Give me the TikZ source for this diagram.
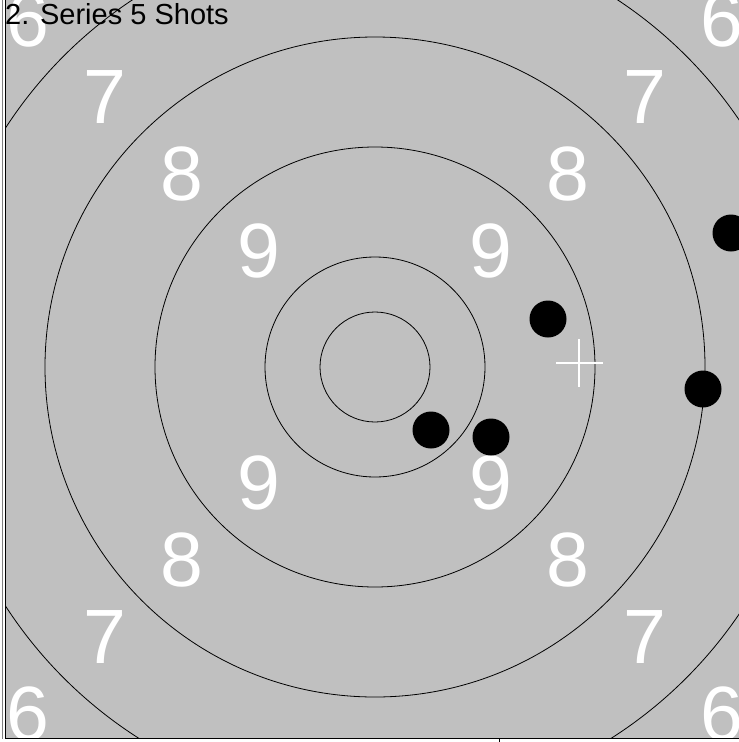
\documentclass[tikz,border=0pt]{standalone}
\usepackage{fontspec}
\setmainfont{Liberation Sans}
\usetikzlibrary{positioning}
\definecolor{targetgray}{RGB}{192,192,192}
\tikzset{
ringline/.style={draw=black, line width=0.8pt},
ringlabel/.style={text=white, inner sep=0pt, font=\fontsize{77}{77}\selectfont},
shotmark/.style={fill=black},
aimcross/.style={draw=white, line width=1.4pt},
frameline/.style={draw=black, line width=0.9pt},
titletext/.style={anchor=base west, inner sep=0pt, font=\fontsize{29}{29}\selectfont}
}

\begin{document}
\begin{tikzpicture}[x=1pt,y=-1pt]
\useasboundingbox (0,0) rectangle (739,742);
\coordinate (ctr) at (375,367);

\begin{scope}
\clip (5,0) rectangle (739,737.5);
\fill[targetgray] (5,0) rectangle (739,737.5);
% rings
\foreach \r in {55,110,220,330,440}
  \draw[ringline] (ctr) circle[radius=\r];
% ring values on the diagonals
\foreach \d/\v in {116/9,193/8,270/7,347/6}{
  \node[ringlabel] (lab\v-ul) at (375-\d,367-\d) {\v};
  \node[ringlabel] (lab\v-ur) at (375+\d,367-\d) {\v};
  \node[ringlabel] (lab\v-ll) at (375-\d,367+\d) {\v};
  \node[ringlabel] (lab\v-lr) at (375+\d,367+\d) {\v};
}
% shots
\foreach \sx/\sy in {548/319,431/430,491/437,703/389,731/233}
  \fill[shotmark] (\sx,\sy) circle[radius=18.5];
% mean point of impact
\draw[aimcross] (556,363) -- (603,363) (579,339) -- (579,387);
\end{scope}

\node[titletext] (title) at (5,24) {2. Series 5 Shots};

% frame
\draw[draw=gray, line width=0.6pt] (2.5,0) -- (2.5,738.5);
\draw[frameline] (5,0) -- (5,738.5) -- (739,738.5);
\draw[frameline] (499,738.5) -- (499,742);
\end{tikzpicture}
\end{document}
